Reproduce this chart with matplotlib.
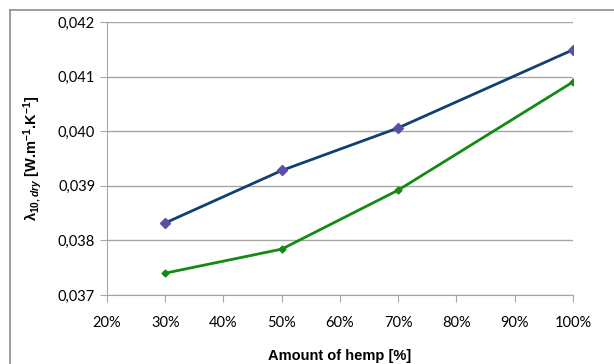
import matplotlib
matplotlib.use('Agg')
import matplotlib.pyplot as plt
from matplotlib.lines import Line2D
from matplotlib.ticker import FuncFormatter

# hemp content and thermal conductivity of the two mixes
hemp = [0.30, 0.50, 0.70, 1.00]
lambda_a = [0.03832, 0.03928, 0.04006, 0.04149]
lambda_b = [0.03740, 0.03784, 0.03892, 0.04090]

x_ticks = [0.2, 0.3, 0.4, 0.5, 0.6, 0.7, 0.8, 0.9, 1.0]
y_ticks = [0.037, 0.038, 0.039, 0.040, 0.041, 0.042]

plt.rcParams['font.family'] = ['Lato', 'DejaVu Sans']
# bold sans for the sub/superscripts in the axis label
plt.rcParams['mathtext.fontset'] = 'custom'
plt.rcParams['mathtext.rm'] = 'Liberation Sans:bold'
plt.rcParams['mathtext.it'] = 'Liberation Sans:bold:italic'
plt.rcParams['mathtext.bf'] = 'Liberation Sans:bold'

fig = plt.figure(figsize=(6.14, 3.64), dpi=100)
ax = fig.add_axes([0.1743, 0.1896, 0.933 - 0.1743, 0.9396 - 0.1896])

# outer chart frame
fig.add_artist(Line2D([0.0163, 0.0163], [0, 0.9725], color='#8c8c8c', lw=1.2))
fig.add_artist(Line2D([0.0163, 1.0], [0.9725, 0.9725], color='#8c8c8c', lw=1.2))

ax.plot(hemp, lambda_a, color='#123f73', lw=2, marker='D', ms=5,
        mfc='#5a4fa6', mec='#5a4fa6', zorder=3)
ax.plot(hemp, lambda_b, color='#138a13', lw=2, marker='D', ms=3.5,
        mfc='#138a13', mec='#138a13', zorder=3)

ax.set_xlim(0.2, 1.0)
ax.set_ylim(0.037, 0.042)
ax.set_xticks(x_ticks)
ax.set_yticks(y_ticks)
ax.xaxis.set_major_formatter(FuncFormatter(lambda v, p: '%d%%' % round(v * 100)))
ax.yaxis.set_major_formatter(FuncFormatter(lambda v, p: ('%.3f' % v).replace('.', ',')))

ax.grid(axis='y', color='#a6a6a6', lw=1)
ax.set_axisbelow(True)
for side in ['top', 'right']:
    ax.spines[side].set_visible(False)
for side in ['left', 'bottom']:
    ax.spines[side].set_color('#a6a6a6')
ax.tick_params(axis='both', colors='#a6a6a6', labelcolor='black', labelsize=10.5, length=5)
ax.tick_params(axis='x', pad=10)

ax.set_xlabel('Amount of hemp [%]', fontsize=10.5, fontweight='bold',
              family=['Liberation Sans'], labelpad=14)
ax.set_ylabel(r'λ$_{\mathit{10,dry}}$ [W.m$^{-1}$.K$^{-1}$]',
              fontsize=10.5, fontweight='bold', family=['Liberation Sans'], labelpad=10)

fig.savefig('out.png', dpi=100)
